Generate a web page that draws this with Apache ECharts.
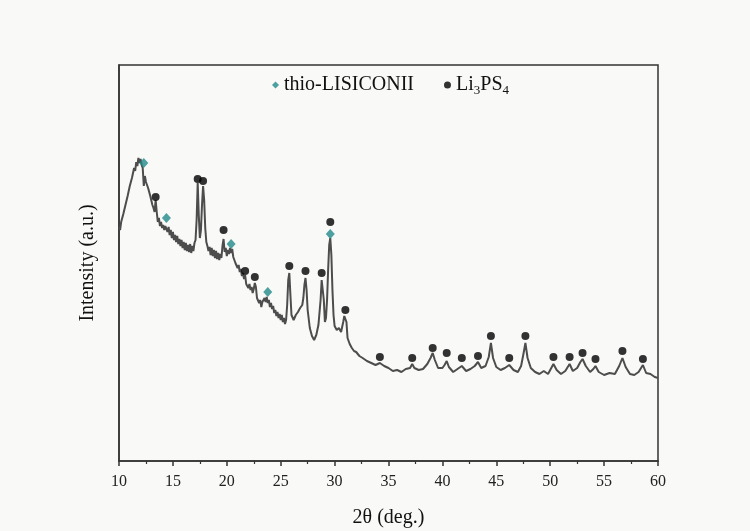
<!DOCTYPE html>
<html>
<head>
<meta charset="utf-8">
<script src="https://cdn.jsdelivr.net/npm/echarts@6/dist/echarts.min.js"></script>
<style>html,body{margin:0;padding:0;background:#f9f9f7;}#c{width:750px;height:531px;}</style>
</head>
<body>
<div id="c"></div>
<script>
// XRD pattern: 2θ (deg) and intensity (a.u.)
var twoTheta = [10.0,10.1,10.2,10.3,10.4,10.5,10.6,10.7,10.8,10.9,11.0,11.1,11.2,11.3,11.4,11.5,11.6,11.7,11.8,11.9,12.0,12.1,12.2,12.3,12.4,12.5,12.6,12.7,12.8,12.9,13.0,13.1,13.2,13.3,13.4,13.5,13.6,13.7,13.8,13.9,14.0,14.1,14.2,14.3,14.4,
  14.5,14.6,14.7,14.8,14.9,15.0,15.1,15.2,15.3,15.4,15.5,15.6,15.7,15.8,15.9,16.0,16.1,16.2,16.3,16.4,16.5,16.6,16.7,16.8,16.9,17.0,
  17.1,17.2,17.3,17.4,17.5,17.6,17.7,17.8,17.9,18.0,18.1,
  18.2,18.3,18.4,18.5,18.6,18.7,18.8,18.9,19.0,19.1,19.2,19.3,19.4,19.5,19.6,19.7,19.8,19.9,20.0,20.1,20.2,20.3,20.4,20.5,20.6,20.7,20.8,20.9,21.0,21.1,21.2,21.3,21.4,21.5,21.6,21.7,21.8,21.9,22.0,22.1,22.2,22.3,22.4,22.5,22.6,22.7,22.8,22.9,23.0,23.1,23.2,23.3,23.4,23.5,23.6,23.7,23.8,23.9,24.0,24.1,24.2,24.3,24.4,24.5,24.6,24.7,24.8,24.9,25.0,25.1,25.2,25.3,25.4,25.5,
  25.6,25.7,25.8,25.9,26.0,26.2,26.4,26.6,26.8,27.0,27.1,27.2,27.3,27.4,27.5,27.7,27.9,28.1,28.3,28.5,28.7,28.8,28.9,29.0,29.1,29.2,29.3,29.4,29.5,29.6,29.7,29.8,29.9,30.0,30.2,30.4,30.6,30.8,30.9,31.0,31.1,31.2,31.4,31.6,31.8,32.0,32.3,32.6,33.0,33.4,33.8,34.2,34.6,35.0,35.4,35.8,36.2,36.6,37.0,37.2,37.4,37.8,38.2,38.6,38.9,39.1,39.3,39.6,40.0,40.2,40.4,40.6,41.0,41.4,41.8,42.2,42.6,43.0,43.3,43.6,44.0,44.3,44.5,44.7,45.0,45.4,45.8,46.2,46.6,47.0,47.3,47.5,47.7,47.9,48.2,48.6,49.0,49.4,49.8,50.1,50.3,50.6,51.0,51.4,51.8,52.1,52.5,52.8,53.0,53.3,53.7,54.0,54.2,54.5,55.0,55.5,56.0,56.4,56.7,57.0,57.4,57.8,58.2,58.6,58.9,59.3,59.7,60.0];
var intensity = [234,231,239,241,247,249,256,258,265,267,275,275,283,285,293,290,299,295,303,298,302,296,293,275,285,279,281,273,271,265,263,256,253,249,261,249,239,243,235,239,233,236,231,235,237,
  229,234,226,231,223,229,221,226,219,225,217,222,215,221,213,219,211,218,210,216,209,217,208,215,210,218,
  221,241,278,246,223,231,256,275,261,233,219,
  215,210,214,206,213,205,211,203,210,202,208,201,207,203,215,222,209,213,205,211,207,213,208,212,204,205,198,200,193,196,189,192,185,188,182,186,177,179,173,177,171,174,168,172,178,174,163,164,158,161,154,159,157,163,159,164,158,161,154,158,152,155,148,151,145,149,143,147,141,146,139,143,137,141,
  156,181,188,166,146,141,146,149,153,156,163,176,183,171,151,133,125,121,126,136,161,181,182,161,139,143,161,191,216,223,206,171,146,135,131,133,129,139,145,146,139,123,117,113,110,109,105,103,100,98,96,98,95,93,90,91,89,92,93,97,93,91,92,97,103,108,101,93,93,96,100,94,89,92,95,90,92,95,99,93,95,104,118,103,94,91,93,96,91,89,95,106,118,103,93,89,87,90,87,93,97,91,87,90,97,90,93,99,102,95,89,92,95,89,86,88,87,95,103,94,87,86,89,96,88,87,84,83];

// Peak markers
var thioX = [12.3,14.4,20.4,23.8,29.6];
var thioY = [298,243,217,169,227];
var liX = [13.4,17.3,17.8,19.7,21.7,22.6,25.8,27.3,28.8,29.6,31.0,34.2,37.2,39.1,40.4,41.8,43.3,44.5,46.2,47.7,50.3,51.8,53.0,54.2,56.7,58.6];
var liY = [264,282,280,231,190,184,195,190,188,239,151,104,103,113,108,103,105,125,103,125,104,104,108,102,110,102];

var xTicks = [10,15,20,25,30,35,40,45,50,55,60];

function zip(a,b){var r=[];for(var i=0;i<a.length;i++)r.push([a[i],b[i]]);return r;}

var serif = 'Liberation Serif';
var chart = echarts.init(document.getElementById('c'), null, {renderer:'canvas'});
chart.setOption({
  backgroundColor:'#f9f9f7',
  animation:false,
  grid:{left:119,right:92,top:65,bottom:70,show:true,borderColor:'#333',borderWidth:1.5,backgroundColor:'transparent',
        containLabel:false,outerBoundsMode:'none'},
  legend:{
    top:70,left:267,itemGap:30,itemWidth:7,itemHeight:7,
    data:[{name:'thio-LISICONII',icon:'diamond'},{name:'Li3PS4',icon:'circle'}],
    formatter:function(n){return n==='Li3PS4'?'{n|Li}{s|3}{n|PS}{s|4}':'{n|'+n+'}';},
    textStyle:{fontFamily:serif,fontSize:20,color:'#111',
      rich:{n:{fontFamily:serif,fontSize:20,color:'#111'},s:{fontFamily:serif,fontSize:13,color:'#111',padding:[11,0,0,0]}}},
    itemStyle:{borderWidth:0}
  },
  xAxis:{
    type:'value',min:10,max:60,interval:5,
    name:'2θ (deg.)',nameLocation:'middle',nameGap:47,
    nameTextStyle:{fontFamily:serif,fontSize:20,color:'#111'},
    axisLine:{lineStyle:{color:'#333',width:1.5}},
    axisTick:{show:true,length:5,lineStyle:{color:'#333',width:1.5}},
    minorTick:{show:true,splitNumber:2,length:3,lineStyle:{color:'#333',width:1.2}},
    splitLine:{show:false},
    axisLabel:{fontFamily:serif,fontSize:16,color:'#222',margin:13,
      customValues:xTicks}
  },
  yAxis:{
    type:'value',min:0,max:396,
    name:'Intensity (a.u.)',nameLocation:'middle',nameGap:21,
    nameTextStyle:{fontFamily:serif,fontSize:20,color:'#111'},
    axisLine:{show:true,lineStyle:{color:'#333',width:1.5}},
    axisTick:{show:false},axisLabel:{show:false},splitLine:{show:false}
  },
  series:[
    {type:'line',name:'XRD',data:zip(twoTheta,intensity),showSymbol:false,symbol:'none',
     lineStyle:{color:'#4d4d4d',width:2},z:2},
    {type:'scatter',name:'thio-LISICONII',data:zip(thioX,thioY),symbol:'diamond',symbolSize:[9,10],
     itemStyle:{color:'#218a8a'},z:4},
    {type:'scatter',name:'Li3PS4',data:zip(liX,liY),symbol:'circle',symbolSize:8,
     itemStyle:{color:'#000'},z:3}
  ]
});
</script>
</body>
</html>
